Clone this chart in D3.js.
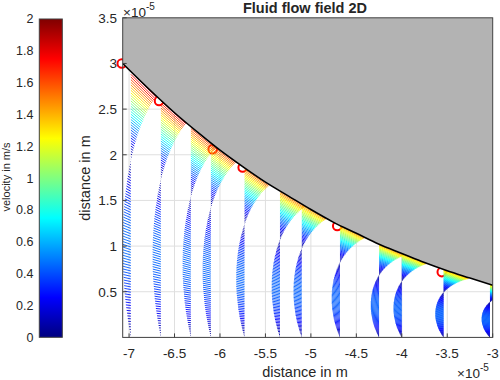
<!DOCTYPE html>
<html><head><meta charset="utf-8">
<script src="https://cdn.jsdelivr.net/npm/d3@7"></script>
<style>
body{margin:0;background:#fff}
text{font-family:"Liberation Sans",Arial,Helvetica,sans-serif;fill:#262626}
</style>
</head><body>
<svg id="chart" width="500" height="380"></svg>
<script>
// ---------- data (x, y in units of 1e-5 m, velocity in m/s) ----------
const xTicks = [-7, -6.5, -6, -5.5, -5, -4.5, -4, -3.5, -3];
const yTicks = [0.5, 1, 1.5, 2, 2.5, 3, 3.5];
const cbTicks = [0, 0.2, 0.4, 0.6, 0.8, 1, 1.2, 1.4, 1.6, 1.8, 2];
const xTickLabels = ["-7", "-6.5", "-6", "-5.5", "-5", "-4.5", "-4", "-3.5", "-3"];
const yTickLabels = ["0.5", "1", "1.5", "2", "2.5", "3", "3.5"];
const cbTickLabels = ["0", "0.2", "0.4", "0.6", "0.8", "1", "1.2", "1.4", "1.6", "1.8", "2"];

// wall (roller surface) profile
const wallX = [-7.07, -6.75, -6.5, -6.25, -6.0, -5.75, -5.5, -5.25, -5.0, -4.75, -4.5, -4.25, -4.0, -3.75, -3.5, -3.25, -3.0];
const wallY = [3.00, 2.69, 2.46, 2.25, 2.05, 1.87, 1.70, 1.55, 1.40, 1.26, 1.14, 1.02, 0.92, 0.82, 0.73, 0.65, 0.57];

// red markers on the wall
const markerX = [-7.08, -6.67, -6.08, -5.75, -4.71, -3.56];
const markerY = [3.00, 2.59, 2.06, 1.86, 1.22, 0.715];

// quiver columns: x position, local gap height, local wall slope
const colX = [-6.98, -6.65, -6.32, -6.10, -5.73, -5.34, -5.10, -4.68, -4.25, -4.00, -3.54, -3.03];
const colH = [2.91, 2.59, 2.31, 2.13, 1.86, 1.60, 1.46, 1.23, 1.02, 0.92, 0.74, 0.58];
const colSlope = [-1.01, -0.91, -0.83, -0.78, -0.70, -0.62, -0.58, -0.51, -0.45, -0.41, -0.35, -0.28];

// relative height in the gap and the x-velocity profile across it
const etaLevels = [0,0.01,0.02,0.03,0.04,0.05,0.06,0.07,0.08,0.09,0.10,0.11,0.12,0.13,0.14,0.15,0.16,0.17,0.18,0.19,
  0.20,0.21,0.22,0.23,0.24,0.25,0.26,0.27,0.28,0.29,0.30,0.31,0.32,0.33,0.34,0.35,0.36,0.37,0.38,0.39,
  0.40,0.41,0.42,0.43,0.44,0.45,0.46,0.47,0.48,0.49,0.50,0.51,0.52,0.53,0.54,0.55,0.56,0.57,0.58,0.59,
  0.60,0.61,0.62,0.63,0.64,0.65,0.66,0.67,0.68,0.69,0.70,0.71,0.72,0.73,0.74,0.75,0.76,0.77,0.78,0.79,
  0.80,0.81,0.82,0.83,0.84,0.85,0.86,0.87,0.88,0.89,0.90,0.91,0.92,0.93,0.94,0.95,0.96,0.97,0.98,0.99,1.00];
const uProfile = [0,-0.03,-0.05,-0.07,-0.10,-0.12,-0.14,-0.16,-0.18,-0.20,-0.22,-0.24,-0.26,-0.27,-0.29,-0.30,-0.32,-0.33,-0.34,-0.35,
  -0.36,-0.37,-0.38,-0.39,-0.40,-0.41,-0.41,-0.42,-0.42,-0.43,-0.43,-0.43,-0.43,-0.43,-0.43,-0.43,-0.43,-0.43,-0.42,-0.42,
  -0.42,-0.41,-0.40,-0.40,-0.39,-0.38,-0.37,-0.36,-0.35,-0.34,-0.33,-0.31,-0.30,-0.28,-0.27,-0.25,-0.23,-0.21,-0.20,-0.18,
  -0.16,-0.13,-0.11,-0.09,-0.07,-0.04,-0.02,0.01,0.04,0.06,0.09,0.12,0.15,0.18,0.21,0.24,0.28,0.31,0.34,0.38,
  0.42,0.45,0.49,0.53,0.57,0.61,0.65,0.69,0.73,0.78,0.82,0.86,0.91,0.96,1.00,1.05,1.10,1.15,1.20,1.25,1.30];

// ---------- rendering ----------
const svg = d3.select("#chart");
const L = 122.7, R = 492.7, T = 17.8, B = 337.4;
const x = d3.scaleLinear().domain([-7.07, -3]).range([L, R]);
const y = d3.scaleLinear().domain([0, 3.5]).range([B, T]);
const quiverScale = 0.211; // data units per m/s

function jet(t) {
  t = Math.max(0, Math.min(1, t));
  const c = v => Math.round(255 * Math.max(0, Math.min(1, v)));
  return `rgb(${c(1.5 - Math.abs(4 * t - 3))},${c(1.5 - Math.abs(4 * t - 2))},${c(1.5 - Math.abs(4 * t - 1))})`;
}

const defs = svg.append("defs");
defs.append("clipPath").attr("id", "clip").append("rect")
  .attr("x", L).attr("y", T).attr("width", R - L).attr("height", B - T);
const grad = defs.append("linearGradient").attr("id", "jetgrad")
  .attr("x1", 0).attr("y1", 1).attr("x2", 0).attr("y2", 0);
d3.range(0, 65).forEach(i => grad.append("stop").attr("offset", i / 64).attr("stop-color", jet(i / 64)));

const gridG = svg.append("g").attr("clip-path", "url(#clip)");
const markerG = svg.append("g");
const arrowG = svg.append("g").attr("clip-path", "url(#clip)");
const patchG = svg.append("g").attr("clip-path", "url(#clip)");
const axisG = svg.append("g");

// grid
gridG.selectAll(".gx").data(xTicks).join("line")
  .attr("x1", d => x(d)).attr("x2", d => x(d)).attr("y1", T).attr("y2", B)
  .attr("stroke", "#dfdfdf").attr("stroke-width", 1);
gridG.selectAll(".gy").data(yTicks).join("line")
  .attr("y1", d => y(d)).attr("y2", d => y(d)).attr("x1", L).attr("x2", R)
  .attr("stroke", "#dfdfdf").attr("stroke-width", 1);

// markers (under arrows and wall patch)
markerG.selectAll("circle").data(markerX).join("circle")
  .attr("cx", d => x(d)).attr("cy", (d, i) => y(markerY[i])).attr("r", 4.3)
  .attr("fill", "none").attr("stroke", "#ff0000").attr("stroke-width", 2);

// quiver arrows
const arrows = [];
colX.forEach((cx, i) => {
  etaLevels.forEach((eta, j) => {
    const u = uProfile[j];
    if (u === 0) return;
    const v = u * eta * colSlope[i];
    const y0 = eta * colH[i];
    arrows.push({ x0: cx, y0, x1: cx + u * quiverScale, y1: y0 + v * quiverScale, m: Math.hypot(u, v) });
  });
});
arrowG.selectAll("line").data(arrows).join("line")
  .attr("x1", d => x(d.x0)).attr("y1", d => y(d.y0))
  .attr("x2", d => x(d.x1)).attr("y2", d => y(d.y1))
  .attr("stroke", d => jet(d.m / 2)).attr("stroke-width", 0.9);

// wall patch
const wallPts = wallX.map((d, i) => [d, wallY[i]]);
const area = d3.area().x(d => x(d[0])).y0(y(3.5)).y1(d => y(d[1])).curve(d3.curveMonotoneX);
patchG.append("path").datum(wallPts).attr("d", area).attr("fill", "#b3b3b3");
const line = d3.line().x(d => x(d[0])).y(d => y(d[1])).curve(d3.curveMonotoneX);
patchG.append("path").datum(wallPts).attr("d", line).attr("fill", "none")
  .attr("stroke", "#000").attr("stroke-width", 1.6);

// axes box and ticks
const axC = "#404040";
axisG.append("rect").attr("x", L).attr("y", T).attr("width", R - L).attr("height", B - T)
  .attr("fill", "none").attr("stroke", axC).attr("stroke-width", 1);
axisG.selectAll(".tx").data(xTicks).join("line")
  .attr("x1", d => x(d)).attr("x2", d => x(d)).attr("y1", B).attr("y2", B - 4)
  .attr("stroke", axC);
axisG.selectAll(".ty").data(yTicks).join("line")
  .attr("y1", d => y(d)).attr("y2", d => y(d)).attr("x1", L).attr("x2", L + 4)
  .attr("stroke", axC);

// tick labels
svg.append("g").selectAll("text").data(xTicks).join("text")
  .attr("x", d => x(d)).attr("y", 358).attr("text-anchor", "middle")
  .attr("font-size", 13.5).text((d, i) => xTickLabels[i]);
svg.append("g").selectAll("text").data(yTicks).join("text")
  .attr("x", 117).attr("y", d => y(d) + 4.8).attr("text-anchor", "end")
  .attr("font-size", 13.5).text((d, i) => yTickLabels[i]);

// exponent labels
const e1 = svg.append("text").attr("x", 123).attr("y", 17).attr("font-size", 13.5);
e1.append("tspan").text("×10");
e1.append("tspan").attr("font-size", 10).attr("dy", -7).text("-5");
const e2 = svg.append("text").attr("x", 457).attr("y", 378).attr("font-size", 13.5);
e2.append("tspan").text("×10");
e2.append("tspan").attr("font-size", 10).attr("dy", -7).text("-5");

// axis labels and title
svg.append("text").attr("x", 305).attr("y", 377).attr("text-anchor", "middle")
  .attr("font-size", 14.5).text("distance in m");
svg.append("text").attr("transform", "translate(90,178) rotate(-90)").attr("text-anchor", "middle")
  .attr("font-size", 14.5).text("distance in m");
svg.append("text").attr("x", 305).attr("y", 13).attr("text-anchor", "middle")
  .attr("font-size", 14.5).attr("font-weight", "bold").attr("fill", "#000").text("Fluid flow field 2D");

// colorbar
const cbL = 39.3, cbW = 23;
const cb = d3.scaleLinear().domain([0, 2]).range([337.3, 19]);
svg.append("rect").attr("x", cbL).attr("y", cb(2)).attr("width", cbW).attr("height", cb(0) - cb(2))
  .attr("fill", "url(#jetgrad)").attr("stroke", axC).attr("stroke-width", 1);
svg.append("g").selectAll("text").data(cbTicks).join("text")
  .attr("x", 33.5).attr("y", d => cb(d) + 4.4).attr("text-anchor", "end")
  .attr("font-size", 12.5).text((d, i) => cbTickLabels[i]);
svg.append("text").attr("transform", "translate(10,177) rotate(-90)").attr("text-anchor", "middle")
  .attr("font-size", 11).text("velocity in m/s");
</script>
</body></html>
